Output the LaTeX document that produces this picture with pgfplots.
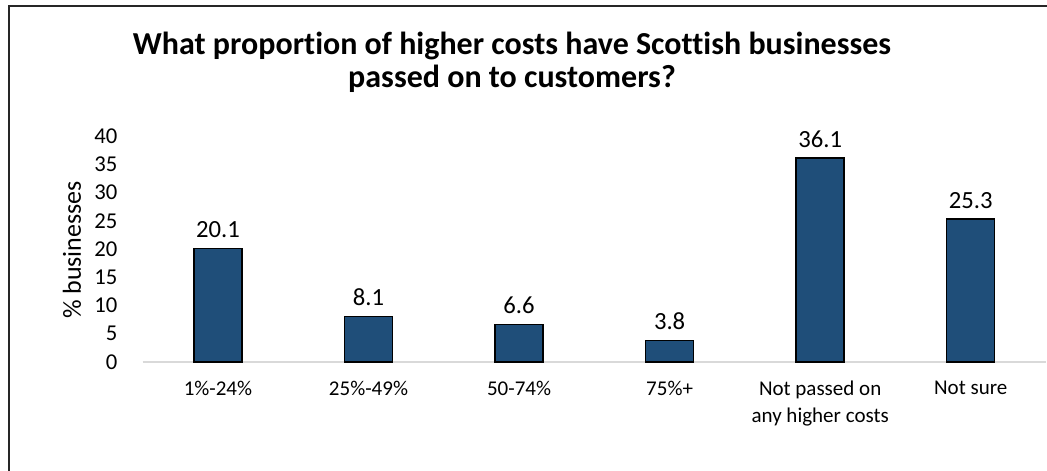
\documentclass[border=0pt]{standalone}
\usepackage{pgfplots}
\pgfplotsset{compat=1.18}
\usepackage{fontspec}
\setmainfont{Carlito}[Ligatures=NoCommon]
\definecolor{barblue}{HTML}{1F4E79}
\begin{document}
\begin{tikzpicture}[x=0.75pt,y=0.75pt]
\useasboundingbox (0,0) rectangle (1047,471);
\draw[line width=1.5pt,color=black!85] (8.5,0) -- (8.5,464.5) -- (1047,464.5);
\node[font=\fontsize{24}{28}\selectfont\bfseries, anchor=base] at (512,416) {What proportion of higher costs have Scottish businesses};
\node[font=\fontsize{24}{28}\selectfont\bfseries, anchor=base] at (512,383) {passed on to customers?};
\node[rotate=90, font=\fontsize{19.5}{23}\selectfont] at (72,221) {\% businesses};
\begin{axis}[
  at={(107.0pt,81.75pt)}, anchor=south west,
  scale only axis, width=677.5pt, height=169.5pt,
  xmin=-0.5, xmax=5.5, ymin=0, ymax=40,
  ytick={0,5,...,40},
  xtick=data,
  xticklabels={1\%-24\%,25\%-49\%,50-74\%,75\%+,Not passed on\\any higher costs,Not sure},
  axis lines*=left,
  y axis line style={draw=none},
  x axis line style={draw=black!15, line width=1.2pt},
  major tick length=0pt,
  tick style={draw=none},
  /pgf/number format/assume math mode=true,
  ticklabel style={inner sep=0pt},
  yticklabel style={font=\fontsize{17}{20}\selectfont},
  yticklabel shift=18.75pt,
  xticklabel style={font=\fontsize{15.75}{20}\selectfont, align=center, anchor=north},
  xticklabel shift=14pt,
  ybar, bar width=36pt,
  nodes near coords,
  every node near coord/.append style={font=\fontsize{18.5}{22}\selectfont, inner sep=0pt, anchor=south, yshift=7.5pt,
    /pgf/number format/fixed, /pgf/number format/precision=1, /pgf/number format/fixed zerofill},
  clip=false,
]
\addplot[fill=barblue, draw=black, line width=1.1pt] coordinates {(0,20.1) (1,8.1) (2,6.6) (3,3.8) (4,36.1) (5,25.3)};
\end{axis}
\end{tikzpicture}
\end{document}
